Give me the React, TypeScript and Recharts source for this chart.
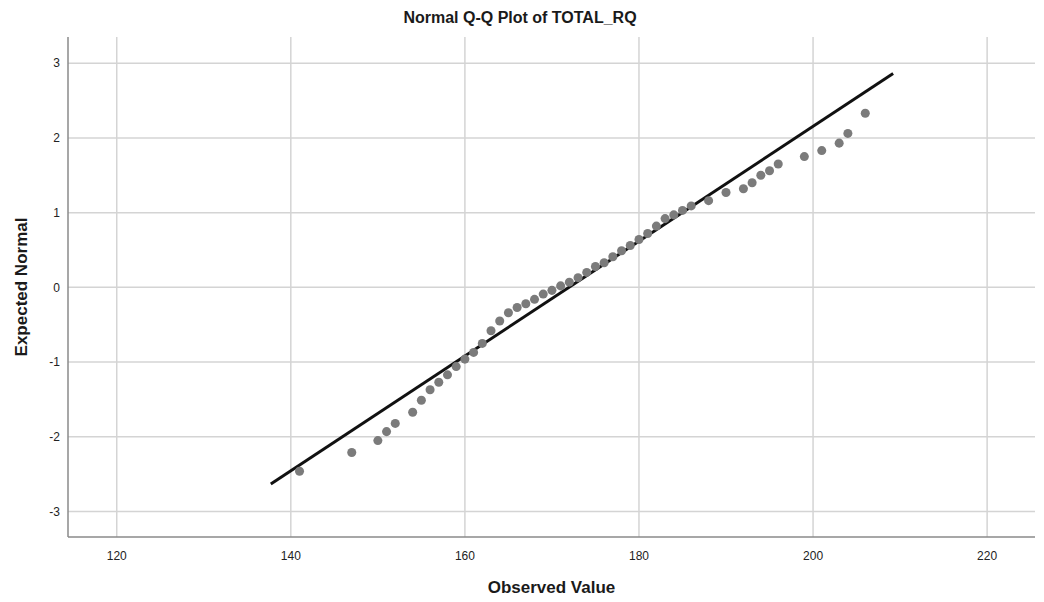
import React from 'react';
import { CartesianGrid, Scatter, ScatterChart, XAxis, YAxis } from 'recharts';

const observed = [
  141, 147, 150, 151, 152, 154, 155, 156, 157, 158, 159, 160, 161, 162, 163, 164, 165, 166, 167, 168,
  169, 170, 171, 172, 173, 174, 175, 176, 177, 178, 179, 180, 181, 182, 183, 184, 185, 186, 188, 190,
  192, 193, 194, 195, 196, 199, 201, 203, 204, 206,
];
const expected = [
  -2.46, -2.21, -2.05, -1.93, -1.82, -1.67, -1.51, -1.37, -1.27, -1.17, -1.06, -0.96, -0.87, -0.75,
  -0.58, -0.45, -0.34, -0.27, -0.22, -0.16, -0.09, -0.04, 0.02, 0.07, 0.13, 0.2, 0.28, 0.33, 0.41,
  0.49, 0.56, 0.64, 0.72, 0.82, 0.92, 0.97, 1.03, 1.09, 1.16, 1.27, 1.32, 1.4, 1.5, 1.56, 1.65, 1.75,
  1.83, 1.93, 2.06, 2.33,
];
const lineX = [137.7, 209.2];
const lineY = [-2.63, 2.86];
const xTicks = [120, 140, 160, 180, 200, 220];
const yTicks = [-3, -2, -1, 0, 1, 2, 3];

const points = observed.map((x, i) => ({ x, y: expected[i] }));
const linePts = lineX.map((x, i) => ({ x, y: lineY[i] }));

const font = '"Liberation Sans", Arial, sans-serif';

const App = () => (
  <div style={{ position: 'absolute', left: 0, top: 0, width: 1044, height: 602, fontFamily: font, background: '#fff' }}>
    <div style={{ position: 'absolute', left: 0, width: 1040, top: 9, textAlign: 'center', fontSize: 16, fontWeight: 'bold', color: '#1a1a1a' }}>
      Normal Q-Q Plot of TOTAL_RQ
    </div>
    <div style={{ position: 'absolute', left: 68, width: 967, top: 578, textAlign: 'center', fontSize: 17, fontWeight: 'bold', color: '#1a1a1a' }}>
      Observed Value
    </div>
    <div
      style={{
        position: 'absolute', left: 22, top: 287, width: 200, textAlign: 'center', fontSize: 17, fontWeight: 'bold', color: '#1a1a1a',
        transform: 'translate(-50%, -50%) rotate(-90deg)', lineHeight: '20px',
      }}
    >
      Expected Normal
    </div>
    <ScatterChart width={1044} height={602} margin={{ top: 37, right: 9, bottom: 0, left: 0 }} style={{ position: 'absolute', left: 0, top: 0 }}>
      <CartesianGrid stroke="#d4d4d4" strokeWidth={1.5} horizontalValues={yTicks} verticalValues={xTicks} />
      <XAxis
        type="number"
        dataKey="x"
        domain={[114.4, 225.5]}
        ticks={xTicks}
        allowDataOverflow
        height={65}
        tickLine={false}
        axisLine={{ stroke: '#8a8a8a', strokeWidth: 1.5 }}
        tick={{ fill: '#222', fontSize: 12, fontFamily: font }}
        tickMargin={8}
      />
      <YAxis
        type="number"
        dataKey="y"
        domain={[-3.34, 3.35]}
        ticks={yTicks}
        allowDataOverflow
        width={68}
        tickLine={false}
        axisLine={{ stroke: '#8a8a8a', strokeWidth: 1.5 }}
        tick={{ fill: '#222', fontSize: 12, fontFamily: font }}
        tickMargin={2}
      />
      <Scatter data={linePts} line={{ stroke: '#111', strokeWidth: 3 }} shape={() => <g />} isAnimationActive={false} />
      <Scatter data={points} fill="#7b7b7b" shape="circle" isAnimationActive={false} />
    </ScatterChart>
  </div>
);

export default App;
